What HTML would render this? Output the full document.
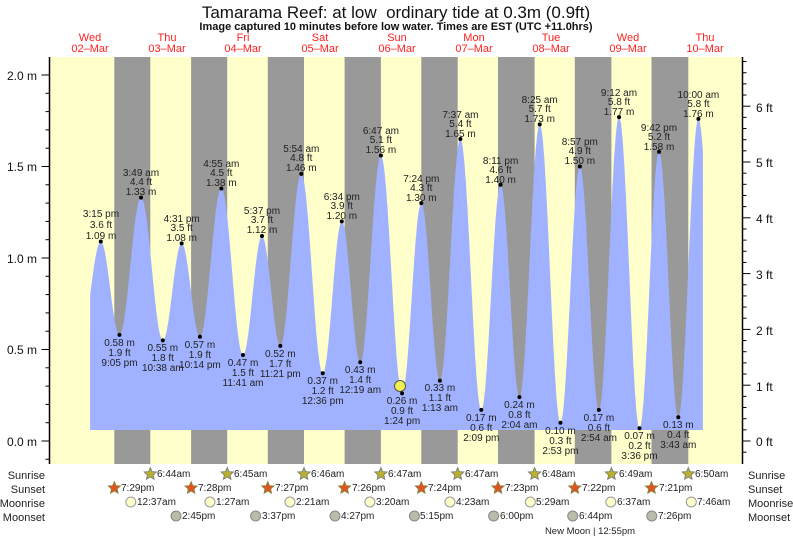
<!DOCTYPE html>
<html><head><meta charset="utf-8"><style>
html,body{margin:0;padding:0;background:#fff;}
svg{display:block;font-family:"Liberation Sans",sans-serif;}
</style></head><body>
<svg id="s" width="793" height="538" xmlns="http://www.w3.org/2000/svg">
<text x="396" y="18" font-size="17" text-anchor="middle" fill="#111" xml:space="preserve" style="white-space:pre">Tamarama Reef: at low  ordinary tide at 0.3m (0.9ft)</text>
<text x="396" y="30" font-size="11" font-weight="bold" text-anchor="middle" fill="#111">Image captured 10 minutes before low water. Times are EST (UTC +11.0hrs)</text>
<g font-size="11" fill="#ff2020" text-anchor="middle">
<text x="90" y="41">Wed</text><text x="90" y="52">02–Mar</text>
<text x="167" y="41">Thu</text><text x="167" y="52">03–Mar</text>
<text x="243" y="41">Fri</text><text x="243" y="52">04–Mar</text>
<text x="320" y="41">Sat</text><text x="320" y="52">05–Mar</text>
<text x="397" y="41">Sun</text><text x="397" y="52">06–Mar</text>
<text x="474" y="41">Mon</text><text x="474" y="52">07–Mar</text>
<text x="551" y="41">Tue</text><text x="551" y="52">08–Mar</text>
<text x="628" y="41">Wed</text><text x="628" y="52">09–Mar</text>
<text x="705" y="41">Thu</text><text x="705" y="52">10–Mar</text>
</g>
<rect x="50" y="57" width="692" height="407" fill="#ffffcc"/>
<g fill="#999999">
<rect x="114.3" y="57" width="36" height="407"/>
<rect x="191.1" y="57" width="36.1" height="407"/>
<rect x="267.8" y="57" width="36.2" height="407"/>
<rect x="344.6" y="57" width="36.3" height="407"/>
<rect x="421.3" y="57" width="36.4" height="407"/>
<rect x="498.0" y="57" width="36.6" height="407"/>
<rect x="574.8" y="57" width="36.6" height="407"/>
<rect x="651.5" y="57" width="36.8" height="407"/>
</g>
<path id="tide" fill="#a0b2ff" d=""/>
<circle cx="400" cy="386" r="5.5" fill="#f0f050" stroke="#555" stroke-width="1"/>
<g id="dots" fill="#000"></g>
<g font-size="10" fill="#222" text-anchor="middle" id="labs">
<text x="101" y="217">3:15 pm</text><text x="101" y="228">3.6 ft</text><text x="101" y="239">1.09 m</text>
<text x="119.5" y="346">0.58 m</text><text x="119.5" y="356">1.9 ft</text><text x="119.5" y="366">9:05 pm</text>
<text x="141" y="176">3:49 am</text><text x="141" y="185">4.4 ft</text><text x="141" y="195">1.33 m</text>
<text x="162.8" y="351">0.55 m</text><text x="162.8" y="361">1.8 ft</text><text x="162.8" y="371">10:38 am</text>
<text x="181.7" y="222">4:31 pm</text><text x="181.7" y="231">3.5 ft</text><text x="181.7" y="241">1.08 m</text>
<text x="199.9" y="348">0.57 m</text><text x="199.9" y="358">1.9 ft</text><text x="199.9" y="368">10:14 pm</text>
<text x="221.3" y="167">4:55 am</text><text x="221.3" y="176">4.5 ft</text><text x="221.3" y="186">1.38 m</text>
<text x="243" y="366">0.47 m</text><text x="243" y="376">1.5 ft</text><text x="243" y="386">11:41 am</text>
<text x="262" y="214">5:37 pm</text><text x="262" y="223">3.7 ft</text><text x="262" y="233">1.12 m</text>
<text x="280.3" y="357">0.52 m</text><text x="280.3" y="367">1.7 ft</text><text x="280.3" y="377">11:21 pm</text>
<text x="301.3" y="152">5:54 am</text><text x="301.3" y="161">4.8 ft</text><text x="301.3" y="171">1.46 m</text>
<text x="322.7" y="384">0.37 m</text><text x="322.7" y="394">1.2 ft</text><text x="322.7" y="404">12:36 pm</text>
<text x="341.8" y="200">6:34 pm</text><text x="341.8" y="209">3.9 ft</text><text x="341.8" y="219">1.20 m</text>
<text x="360.2" y="373">0.43 m</text><text x="360.2" y="383">1.4 ft</text><text x="360.2" y="393">12:19 am</text>
<text x="380.9" y="134">6:47 am</text><text x="380.9" y="143">5.1 ft</text><text x="380.9" y="153">1.56 m</text>
<text x="402.1" y="404">0.26 m</text><text x="402.1" y="414">0.9 ft</text><text x="402.1" y="424">1:24 pm</text>
<text x="421.3" y="182">7:24 pm</text><text x="421.3" y="191">4.3 ft</text><text x="421.3" y="201">1.30 m</text>
<text x="439.9" y="391">0.33 m</text><text x="439.9" y="401">1.1 ft</text><text x="439.9" y="411">1:13 am</text>
<text x="460.4" y="118">7:37 am</text><text x="460.4" y="127">5.4 ft</text><text x="460.4" y="137">1.65 m</text>
<text x="481.3" y="421">0.17 m</text><text x="481.3" y="431">0.6 ft</text><text x="481.3" y="441">2:09 pm</text>
<text x="500.6" y="164">8:11 pm</text><text x="500.6" y="173">4.6 ft</text><text x="500.6" y="183">1.40 m</text>
<text x="519.4" y="408">0.24 m</text><text x="519.4" y="418">0.8 ft</text><text x="519.4" y="428">2:04 am</text>
<text x="539.7" y="103">8:25 am</text><text x="539.7" y="112">5.7 ft</text><text x="539.7" y="122">1.73 m</text>
<text x="560.4" y="434">0.10 m</text><text x="560.4" y="444">0.3 ft</text><text x="560.4" y="454">2:53 pm</text>
<text x="579.8" y="145">8:57 pm</text><text x="579.8" y="154">4.9 ft</text><text x="579.8" y="164">1.50 m</text>
<text x="598.9" y="421">0.17 m</text><text x="598.9" y="431">0.6 ft</text><text x="598.9" y="441">2:54 am</text>
<text x="619" y="96">9:12 am</text><text x="619" y="105">5.8 ft</text><text x="619" y="115">1.77 m</text>
<text x="639.5" y="439">0.07 m</text><text x="639.5" y="449">0.2 ft</text><text x="639.5" y="459">3:36 pm</text>
<text x="659" y="131">9:42 pm</text><text x="659" y="140">5.2 ft</text><text x="659" y="150">1.58 m</text>
<text x="678.3" y="428">0.13 m</text><text x="678.3" y="438">0.4 ft</text><text x="678.3" y="448">3:43 am</text>
<text x="698.4" y="98">10:00 am</text><text x="698.4" y="107">5.8 ft</text><text x="698.4" y="117">1.76 m</text>
</g>
<line x1="49.5" y1="57" x2="49.5" y2="464" stroke="#000" stroke-width="1.5"/>
<line x1="742.5" y1="57" x2="742.5" y2="464" stroke="#000" stroke-width="1.5"/>
<g id="ticks" stroke="#000" stroke-width="1"></g>
<g font-size="12" fill="#111" text-anchor="end">
<text x="37" y="80">2.0 m</text><text x="37" y="171">1.5 m</text><text x="37" y="263">1.0 m</text><text x="37" y="354">0.5 m</text><text x="37" y="446">0.0 m</text>
</g>
<g font-size="12" fill="#111">
<text x="756" y="446">0 ft</text><text x="756" y="391">1 ft</text><text x="756" y="335">2 ft</text><text x="756" y="279">3 ft</text><text x="756" y="223">4 ft</text><text x="756" y="167">5 ft</text><text x="756" y="112">6 ft</text>
</g>
<g font-size="11" fill="#222" text-anchor="end">
<text x="45" y="479">Sunrise</text><text x="45" y="493">Sunset</text><text x="45" y="507">Moonrise</text><text x="45" y="521">Moonset</text>
</g>
<g font-size="11" fill="#222">
<text x="748" y="479">Sunrise</text><text x="748" y="493">Sunset</text><text x="748" y="507">Moonrise</text><text x="748" y="521">Moonset</text>
</g>
<g id="astro" font-size="10" fill="#222"></g>
<text x="590" y="534" font-size="9.5" fill="#222" text-anchor="middle">New Moon | 12:55pm</text>
</svg>
<script>
var ext=[[15.25,1.09],[21.08,.58],[27.82,1.33],[34.63,.55],[40.52,1.08],[46.23,.57],[52.92,1.38],[59.68,.47],[65.62,1.12],[71.35,.52],[77.9,1.46],[84.6,.37],[90.57,1.2],[96.32,.43],[102.78,1.56],[109.4,.26],[115.4,1.3],[121.22,.33],[127.62,1.65],[134.15,.17],[140.18,1.4],[146.07,.24],[152.42,1.73],[158.88,.1],[164.95,1.5],[170.9,.17],[177.2,1.77],[183.6,.07],[189.7,1.58],[195.72,.13],[202,1.76]];
var all=[[9.05,.57]].concat(ext).concat([[208.5,.12]]);
function X(t){return 52+3.2*t}function Y(h){return 441-183*h}
function H(t){for(var i=0;i<all.length-1;i++){var a=all[i],b=all[i+1];if(t>=a[0]&&t<=b[0]){var f=(t-a[0])/(b[0]-a[0]);return a[1]+(b[1]-a[1])*(1-Math.cos(Math.PI*f))/2;}}return 0}
var d="M"+X(11.9)+",430";for(var t=11.9;t<=203.4;t+=0.1){d+=" L"+X(t).toFixed(1)+","+Y(H(t)).toFixed(1);}d+=" L"+X(203.4)+",430 Z";
document.getElementById("tide").setAttribute("d",d);
var ns="http://www.w3.org/2000/svg";
function el(p,n,a){var e=document.createElementNS(ns,n);for(var k in a)e.setAttribute(k,a[k]);p.appendChild(e);return e}
var g=document.getElementById("dots");ext.forEach(function(e){el(g,"circle",{cx:X(e[0]),cy:Y(e[1]),r:2})});
var tk=document.getElementById("ticks");
for(var i=-1;i<=21;i++){var y=Y(i/10);if(y<57||y>464)continue;var L=(i%5==0)?8:4;el(tk,"line",{x1:49.5-L,x2:49.5,y1:y,y2:y});}
for(var i=-1;i<=34;i++){var y=441-55.8*i/5;if(y<57||y>464)continue;var L=(i%5==0)?8:4;el(tk,"line",{x1:742.5,x2:742.5+L,y1:y,y2:y});}
function star(p,cx,cy,fill,stroke){var pts=[];for(var k=0;k<10;k++){var r=k%2?3:6.5,a=-Math.PI/2+k*Math.PI/5;pts.push((cx+r*Math.cos(a)).toFixed(1)+","+(cy+r*Math.sin(a)).toFixed(1));}el(p,"polygon",{points:pts.join(" "),fill:fill,stroke:stroke,"stroke-width":0.8});}
var A=document.getElementById("astro");
[150.3,227.2,304,380.9,457.7,534.6,611.4,688.3].forEach(function(x){star(A,x,474,"#b8b030","#777");});
[114.3,191.1,267.8,344.6,421.3,498,574.8,651.5].forEach(function(x){star(A,x,488,"#dd5522","#884");});
[130.8,210,290,369.9,450,530.3,610.8,691.3].forEach(function(x){el(A,"circle",{cx:x,cy:502,r:5,fill:"#ffffcc",stroke:"#999"});});
[176,255.6,335,414.4,493.6,572.7,651.8].forEach(function(x){el(A,"circle",{cx:x,cy:516,r:5,fill:"#bbbbaa",stroke:"#888"});});
</script>
<div style="position:absolute;left:0;top:0;width:793px;height:538px;pointer-events:none;font-family:'Liberation Sans',sans-serif;font-size:10px;color:#222">
<span style="position:absolute;left:157px;top:469px">6:44am</span><span style="position:absolute;left:234px;top:469px">6:45am</span><span style="position:absolute;left:311px;top:469px">6:46am</span><span style="position:absolute;left:388px;top:469px">6:47am</span><span style="position:absolute;left:465px;top:469px">6:47am</span><span style="position:absolute;left:542px;top:469px">6:48am</span><span style="position:absolute;left:619px;top:469px">6:49am</span><span style="position:absolute;left:695px;top:469px">6:50am</span>
<span style="position:absolute;left:121px;top:483px">7:29pm</span><span style="position:absolute;left:198px;top:483px">7:28pm</span><span style="position:absolute;left:275px;top:483px">7:27pm</span><span style="position:absolute;left:352px;top:483px">7:26pm</span><span style="position:absolute;left:428px;top:483px">7:24pm</span><span style="position:absolute;left:505px;top:483px">7:23pm</span><span style="position:absolute;left:582px;top:483px">7:22pm</span><span style="position:absolute;left:659px;top:483px">7:21pm</span>
<span style="position:absolute;left:137px;top:497px">12:37am</span><span style="position:absolute;left:216px;top:497px">1:27am</span><span style="position:absolute;left:296px;top:497px">2:21am</span><span style="position:absolute;left:376px;top:497px">3:20am</span><span style="position:absolute;left:456px;top:497px">4:23am</span><span style="position:absolute;left:536px;top:497px">5:29am</span><span style="position:absolute;left:617px;top:497px">6:37am</span><span style="position:absolute;left:697px;top:497px">7:46am</span>
<span style="position:absolute;left:182px;top:511px">2:45pm</span><span style="position:absolute;left:262px;top:511px">3:37pm</span><span style="position:absolute;left:341px;top:511px">4:27pm</span><span style="position:absolute;left:420px;top:511px">5:15pm</span><span style="position:absolute;left:500px;top:511px">6:00pm</span><span style="position:absolute;left:579px;top:511px">6:44pm</span><span style="position:absolute;left:658px;top:511px">7:26pm</span>
</div>
</body></html>
